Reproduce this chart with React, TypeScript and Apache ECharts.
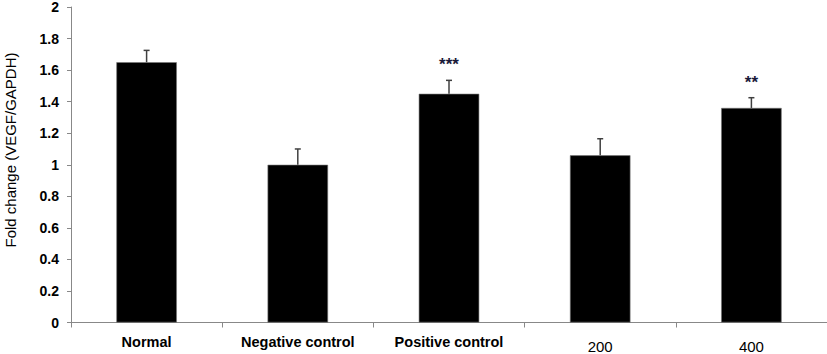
import React, { useEffect, useRef } from "react";
import * as echarts from "echarts";

const categories = ["Normal", "Negative control", "Positive control", "200", "400"];
const foldChange = [1.65, 1.0, 1.45, 1.06, 1.36];
const errorUp = [0.075, 0.1, 0.085, 0.105, 0.065];
const significance = ["", "", "***", "", "**"];
const yTicks = [0, 0.2, 0.4, 0.6, 0.8, 1, 1.2, 1.4, 1.6, 1.8, 2];
const yTitle = "Fold change (VEGF/GAPDH)";

export default function App() {
  const ref = useRef<HTMLDivElement>(null);
  useEffect(() => {
    if (!ref.current) return;
    const chart = echarts.init(ref.current, null, { renderer: "svg" });
    const font = "Liberation Sans, Arial, sans-serif";
    chart.setOption({
      animation: false,
      grid: { left: 71, right: 0, top: 7, bottom: 30, containLabel: false },
      graphic: [
        {
          type: "text",
          x: 10,
          y: 150,
          rotation: Math.PI / 2,
          style: {
            text: yTitle,
            fill: "#000",
            fontSize: 15,
            fontFamily: font,
            align: "center",
            verticalAlign: "middle",
          },
        },
      ],
      xAxis: {
        type: "category",
        data: categories,
        axisLine: { lineStyle: { color: "#888", width: 1 } },
        axisTick: { show: true, alignWithLabel: false, length: 5, lineStyle: { color: "#888" } },
        axisLabel: {
          interval: 0,
          margin: 11,
          formatter: (v: string) => (/^\d+$/.test(v) ? `{n|${v}}` : `{b|${v}}`),
          rich: {
            b: {
              color: "#000",
              fontWeight: "bold",
              fontSize: 14.5,
              fontFamily: font,
              lineHeight: 16,
            },
            n: {
              color: "#000",
              fontWeight: "normal",
              fontSize: 15,
              fontFamily: font,
              lineHeight: 26,
            },
          },
        },
      },
      yAxis: {
        type: "value",
        min: 0,
        max: 2,
        interval: 0.2,
        axisLine: { show: true, lineStyle: { color: "#888", width: 1 } },
        axisTick: { show: true, length: 4, lineStyle: { color: "#888" } },
        splitLine: { show: false },
        axisLabel: {
          color: "#000",
          fontWeight: "bold",
          fontSize: 14,
          fontFamily: font,
          margin: 12,
          formatter: (v: number) => {
            const t = yTicks.find((x) => Math.abs(x - v) < 1e-6);
            return t === undefined ? "" : String(t);
          },
        },
      },
      series: [
        {
          type: "bar",
          data: foldChange,
          barWidth: "40%",
          itemStyle: { color: "#000", borderColor: "#777", borderWidth: 0.6 },
        },
        {
          type: "custom",
          data: foldChange.map((v, i) => [i, v, v + errorUp[i]]),
          z: 5,
          renderItem: (params: any, api: any) => {
            const i = api.value(0);
            const base = api.coord([i, api.value(1)]);
            const top = api.coord([i, api.value(2)]);
            const sig = significance[params.dataIndex];
            const children: any[] = [
              {
                type: "line",
                shape: { x1: base[0], y1: base[1], x2: top[0], y2: top[1] },
                style: { stroke: "#404040", lineWidth: 1.5 },
              },
              {
                type: "line",
                shape: { x1: top[0] - 3, y1: top[1], x2: top[0] + 3, y2: top[1] },
                style: { stroke: "#404040", lineWidth: 1.5 },
              },
            ];
            if (sig) {
              children.push({
                type: "text",
                x: top[0],
                y: top[1] - 7,
                style: {
                  text: sig,
                  fill: "#1a1a3a",
                  fontSize: 17,
                  fontWeight: "bold",
                  fontFamily: font,
                  align: "center",
                  verticalAlign: "bottom",
                },
              });
            }
            return { type: "group", children };
          },
        },
      ],
    });
    return () => chart.dispose();
  }, []);
  return (
    <div
      ref={ref}
      style={{ position: "absolute", left: 0, top: 0, width: 827, height: 354, background: "#fff" }}
    />
  );
}
